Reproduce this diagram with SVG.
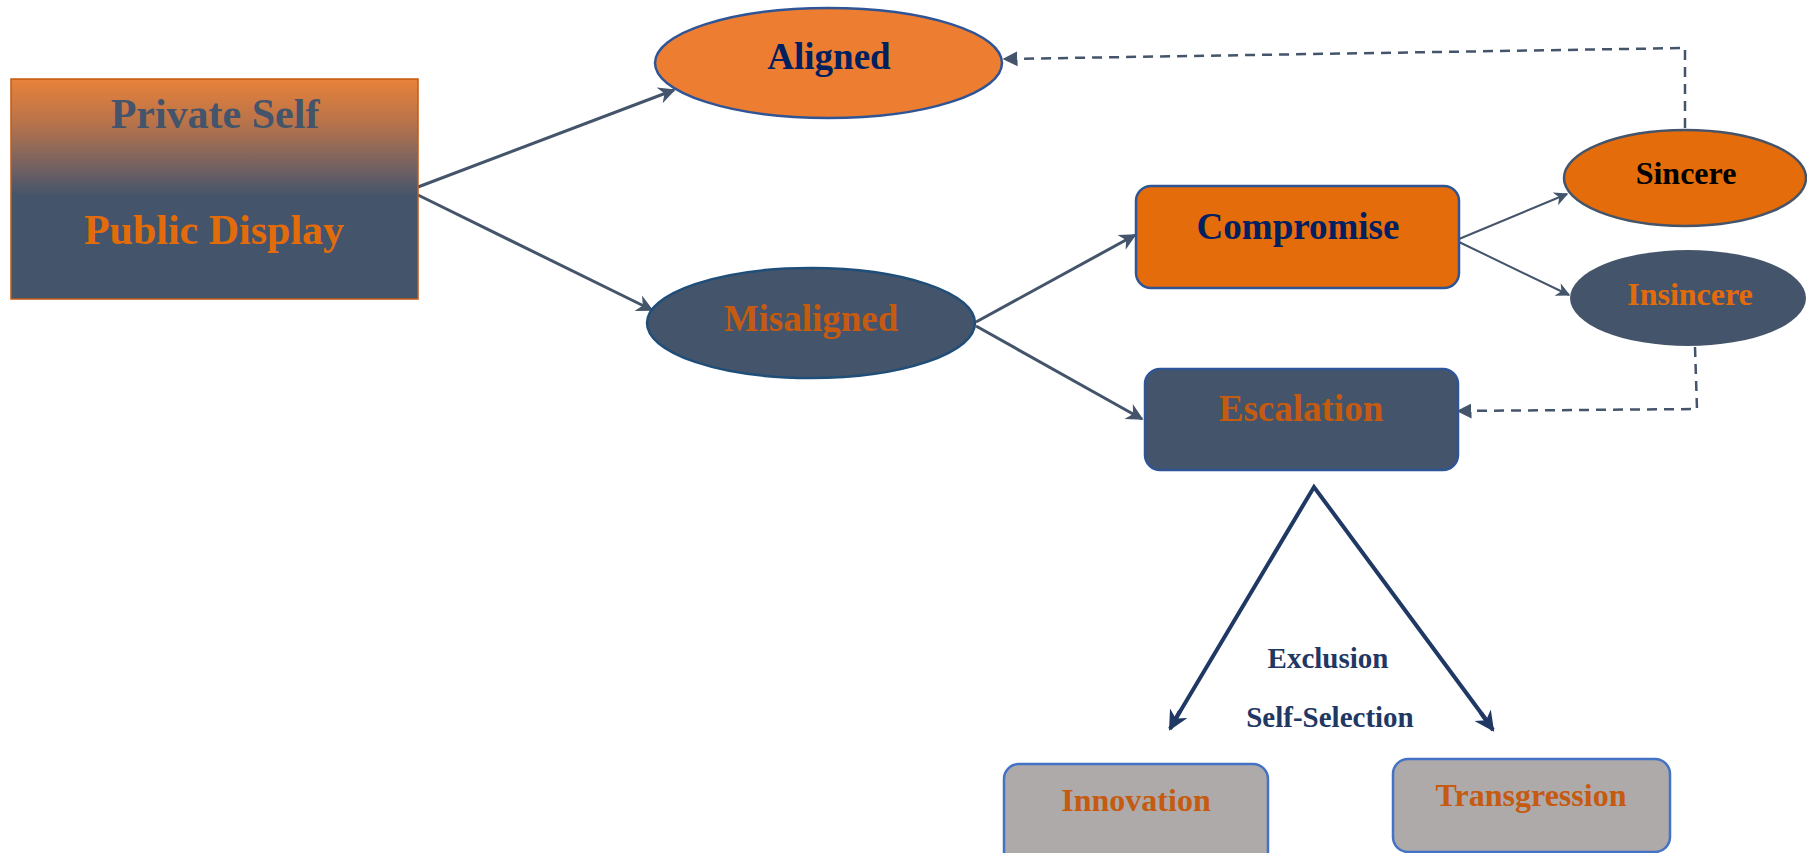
<svg xmlns="http://www.w3.org/2000/svg" width="1807" height="853" viewBox="0 0 1807 853">
<style>
text{font-family:"Liberation Serif","Times New Roman",serif;font-weight:bold;text-anchor:middle}
.c{fill:none;stroke:#44546A;stroke-width:3}
.t{fill:none;stroke:#44546A;stroke-width:2}
.d{fill:none;stroke:#44546A;stroke-width:2.5;stroke-dasharray:10 7}
.k{fill:none;stroke:#1F3864;stroke-width:4}
.navy{fill:#002060}
.rust{fill:#C55A11}
</style>
<defs>
<linearGradient id="g" x1="0" y1="0" x2="0" y2="1">
<stop offset="0" stop-color="#E8823A"/>
<stop offset="0.2" stop-color="#B8734A"/>
<stop offset="0.38" stop-color="#7A6360"/>
<stop offset="0.53" stop-color="#44546A"/>
<stop offset="1" stop-color="#44546A"/>
</linearGradient>
<marker id="a" viewBox="0 0 10 10" refX="9" refY="5" markerWidth="24" markerHeight="17" markerUnits="userSpaceOnUse" orient="auto">
<path d="M0,0 L10,5 L0,10 L3,5 z" fill="#44546A"/>
</marker>
<marker id="as" viewBox="0 0 10 10" refX="9" refY="5" markerWidth="19" markerHeight="14" markerUnits="userSpaceOnUse" orient="auto">
<path d="M0,0 L10,5 L0,10 L3,5 z" fill="#44546A"/>
</marker>
<marker id="ad" viewBox="0 0 10 10" refX="9" refY="5" markerWidth="15" markerHeight="16" markerUnits="userSpaceOnUse" orient="auto">
<path d="M0,0 L10,5 L0,10 z" fill="#44546A"/>
</marker>
<marker id="ak" viewBox="0 0 10 10" refX="9" refY="5" markerWidth="26" markerHeight="20" markerUnits="userSpaceOnUse" orient="auto">
<path d="M0,0 L10,5 L0,10 L3,5 z" fill="#1F3864"/>
</marker>
</defs>

<g id="connectors">
<line class="c" x1="418" y1="187" x2="674" y2="90" marker-end="url(#a)"/>
<line class="c" x1="418" y1="195" x2="652" y2="310" marker-end="url(#a)"/>
<line class="c" x1="976" y1="322" x2="1135" y2="235" marker-end="url(#a)"/>
<line class="c" x1="976" y1="326" x2="1142" y2="419" marker-end="url(#a)"/>
<line class="t" x1="1459" y1="239" x2="1567" y2="194" marker-end="url(#as)"/>
<line class="t" x1="1459" y1="242" x2="1569" y2="295" marker-end="url(#as)"/>
<polyline class="d" points="1685,128 1685,48 1004,59" marker-end="url(#ad)"/>
<polyline class="d" points="1695,347 1697,409 1458,411" marker-end="url(#ad)"/>
<polyline class="k" points="1175,720 1314,487 1487,721"/>
<line class="k" x1="1180" y1="711" x2="1170" y2="729" marker-end="url(#ak)"/>
<line class="k" x1="1481" y1="713" x2="1493" y2="730" marker-end="url(#ak)"/>
</g>

<g id="private-self">
<rect x="11" y="79" width="407" height="220" fill="url(#g)" stroke="#C55A11" stroke-width="1.5"/>
<text x="215" y="128" font-size="42" fill="#44546A">Private Self</text>
<text x="214" y="244" font-size="42" fill="#E36C0A">Public Display</text>
</g>

<g id="aligned">
<ellipse cx="828.5" cy="63" rx="173.5" ry="55" fill="#ED7D31" stroke="#2F5597" stroke-width="2.5"/>
<text x="829" y="69" font-size="37" class="navy">Aligned</text>
</g>

<g id="misaligned">
<ellipse cx="811" cy="323" rx="164" ry="55" fill="#44546A" stroke="#1F4E79" stroke-width="2.5"/>
<text x="811" y="331" font-size="37" class="rust">Misaligned</text>
</g>

<g id="compromise">
<rect x="1136" y="186" width="323" height="102" rx="15" fill="#E46C0A" stroke="#2F5597" stroke-width="2.5"/>
<text x="1298" y="239" font-size="37" class="navy">Compromise</text>
</g>

<g id="escalation">
<rect x="1145" y="369" width="313" height="101" rx="15" fill="#44546A" stroke="#2F5597" stroke-width="2.5"/>
<text x="1301" y="421" font-size="37" class="rust">Escalation</text>
</g>

<g id="sincere">
<ellipse cx="1685" cy="178" rx="121" ry="48" fill="#E46C0A" stroke="#44546A" stroke-width="2.5"/>
<text x="1686" y="184" font-size="32" fill="#000000">Sincere</text>
</g>

<g id="insincere">
<ellipse cx="1688" cy="298" rx="118" ry="48" fill="#44546A"/>
<text x="1690" y="305" font-size="32" fill="#E36C0A">Insincere</text>
</g>

<g id="labels">
<text x="1328" y="668" font-size="29" fill="#1F3864">Exclusion</text>
<text x="1330" y="727" font-size="29" fill="#1F3864">Self-Selection</text>
</g>

<g id="innovation">
<rect x="1004" y="764" width="264" height="110" rx="15" fill="#AEAAAA" stroke="#4472C4" stroke-width="2.5"/>
<text x="1136" y="811" font-size="32" class="rust">Innovation</text>
</g>

<g id="transgression">
<rect x="1393" y="759" width="277" height="93" rx="15" fill="#AEAAAA" stroke="#4472C4" stroke-width="2.5"/>
<text x="1531" y="806" font-size="32" class="rust">Transgression</text>
</g>
</svg>
